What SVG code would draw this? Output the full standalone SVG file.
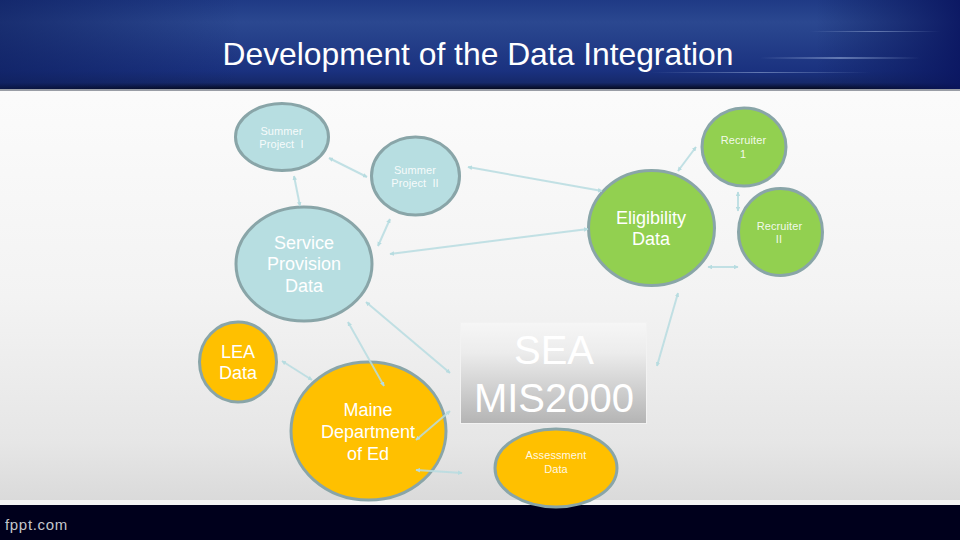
<svg xmlns="http://www.w3.org/2000/svg" width="960" height="540" viewBox="0 0 960 540">
<style>
text{font-family:"Liberation Sans",Arial,sans-serif;fill:#fff;text-anchor:middle}
.n{stroke:#89a5a8;stroke-width:3}
.b{fill:#b7dee1}.g{fill:#92d050}.o{fill:#ffc000}
.c line{stroke:#b7dce0;stroke-width:2;stroke-opacity:.85;marker-start:url(#a);marker-end:url(#a)}
.s{font-size:11px;letter-spacing:.1px;fill-opacity:.9}
.m{font-size:18px}
</style>
<defs>
<marker id="a" viewBox="0 0 8 8" refX="7" refY="4" markerWidth="2.300" markerHeight="2.300" orient="auto-start-reverse"><path d="M0 0L8 4L0 8Z" fill="#b7dce0"/></marker>
<linearGradient id="hd" x1="0" y1="0" x2="0" y2="1"><stop offset="0" stop-color="#1f3a85"/><stop offset=".25" stop-color="#2b4890"/><stop offset=".8" stop-color="#1a317f"/><stop offset=".93" stop-color="#16296a"/><stop offset="1" stop-color="#050a20"/></linearGradient>
<linearGradient id="ed" x1="0" y1="0" x2="1" y2="0"><stop offset="0" stop-color="#0d1d5c" stop-opacity=".6"/><stop offset=".25" stop-color="#0d1d5c" stop-opacity="0"/><stop offset=".85" stop-color="#0d1d5c" stop-opacity="0"/><stop offset="1" stop-color="#0a1560" stop-opacity=".9"/></linearGradient>
<linearGradient id="bg" x1="0" y1="0" x2="0" y2="1"><stop offset="0" stop-color="#fff"/><stop offset=".55" stop-color="#f3f3f3"/><stop offset=".82" stop-color="#e6e6e6"/><stop offset="1" stop-color="#d2d2d2"/></linearGradient>
<linearGradient id="sea" x1="0" y1="0" x2="0" y2="1"><stop offset="0" stop-color="#f6f6f6"/><stop offset=".3" stop-color="#ececec"/><stop offset="1" stop-color="#b4b4b4"/></linearGradient>
<linearGradient id="gl" x1="0" y1="0" x2="1" y2="0"><stop offset="0" stop-color="#9db2dc" stop-opacity="0"/><stop offset=".5" stop-color="#9db2dc" stop-opacity=".55"/><stop offset="1" stop-color="#9db2dc" stop-opacity="0"/></linearGradient>
</defs>
<g id="background">
<rect width="960" height="540" fill="url(#bg)"/>
<rect width="960" height="89" fill="url(#hd)"/>
<rect width="960" height="89" fill="url(#ed)"/>
<rect x="810" y="31" width="130" height="1" fill="url(#gl)"/>
<rect x="760" y="57" width="160" height="2" fill="url(#gl)"/>
<rect x="650" y="72" width="220" height="1" fill="url(#gl)"/>
<rect y="89" width="960" height="2" fill="#9a9ea6"/>
<rect y="500" width="960" height="5" fill="#f4f4f4"/>
<rect y="505" width="960" height="35" fill="#00001c"/>
<text x="36.500" y="530" style="font-size:15px;letter-spacing:.7px;fill:#c4c7cc">fppt.com</text>
</g>
<text id="title" x="478" y="65" style="font-size:31.800px;fill:#fff">Development of the Data Integration</text>
<g id="summer1"><ellipse class="n b" cx="282" cy="137" rx="46.500" ry="33.500"/><text class="s" x="281.500" y="135">Summer</text><text class="s" x="281.500" y="148" xml:space="preserve">Project  I</text></g>
<g id="summer2"><ellipse class="n b" cx="415.500" cy="176" rx="44" ry="39"/><text class="s" x="415" y="174">Summer</text><text class="s" x="415" y="187" xml:space="preserve">Project  II</text></g>
<g id="service"><ellipse class="n b" cx="304" cy="264" rx="68" ry="57"/><text class="m" x="304" y="249">Service</text><text class="m" x="304" y="270">Provision</text><text class="m" x="304" y="292">Data</text></g>
<g id="eligibility"><ellipse class="n g" cx="651.500" cy="228" rx="63" ry="57.500"/><text class="m" x="651" y="224">Eligibility</text><text class="m" x="651" y="245">Data</text></g>
<g id="recruiter1"><ellipse class="n g" cx="744" cy="147" rx="42" ry="39"/><text class="s" x="743.500" y="144">Recruiter</text><text class="s" x="743" y="158">1</text></g>
<g id="recruiter2"><ellipse class="n g" cx="780.500" cy="232" rx="42" ry="43.500"/><text class="s" x="779.500" y="230">Recruiter</text><text class="s" x="779" y="243">II</text></g>
<g id="lea"><ellipse class="n o" cx="238" cy="362" rx="38.500" ry="40"/><text class="m" x="238" y="358">LEA</text><text class="m" x="238" y="379">Data</text></g>
<g id="maine"><ellipse class="n o" cx="368.500" cy="431" rx="77.500" ry="69"/><text class="m" x="368" y="416">Maine</text><text class="m" x="368" y="438">Department</text><text class="m" x="368" y="460">of Ed</text></g>
<g id="sea-mis"><rect x="460.500" y="322.500" width="186" height="101" fill="url(#sea)" stroke="#f2f2f2"/><text x="554" y="364" style="font-size:40px">SEA</text><text x="554" y="412" style="font-size:40px">MIS2000</text></g>
<g id="assessment"><ellipse class="n o" cx="556" cy="468" rx="61" ry="39"/><text class="s" x="556" y="459">Assessment</text><text class="s" x="556" y="473">Data</text></g>
<g id="connectors" class="c">
<line x1="329" y1="158" x2="367" y2="177"/>
<line x1="294" y1="176" x2="300" y2="206"/>
<line x1="390" y1="219" x2="378" y2="246"/>
<line x1="588" y1="229" x2="390" y2="254"/>
<line x1="602" y1="191" x2="468" y2="167"/>
<line x1="678" y1="171" x2="696" y2="147"/>
<line x1="738" y1="192" x2="738" y2="211"/>
<line x1="708" y1="267" x2="738" y2="267"/>
<line x1="678" y1="293" x2="657" y2="366"/>
<line x1="450" y1="373" x2="366" y2="302"/>
<line x1="384" y1="386" x2="348" y2="322"/>
<line x1="282" y1="361" x2="312" y2="380"/>
<line x1="416" y1="440" x2="450" y2="411"/>
<line x1="416" y1="470" x2="462" y2="473"/>
</g>
</svg>
